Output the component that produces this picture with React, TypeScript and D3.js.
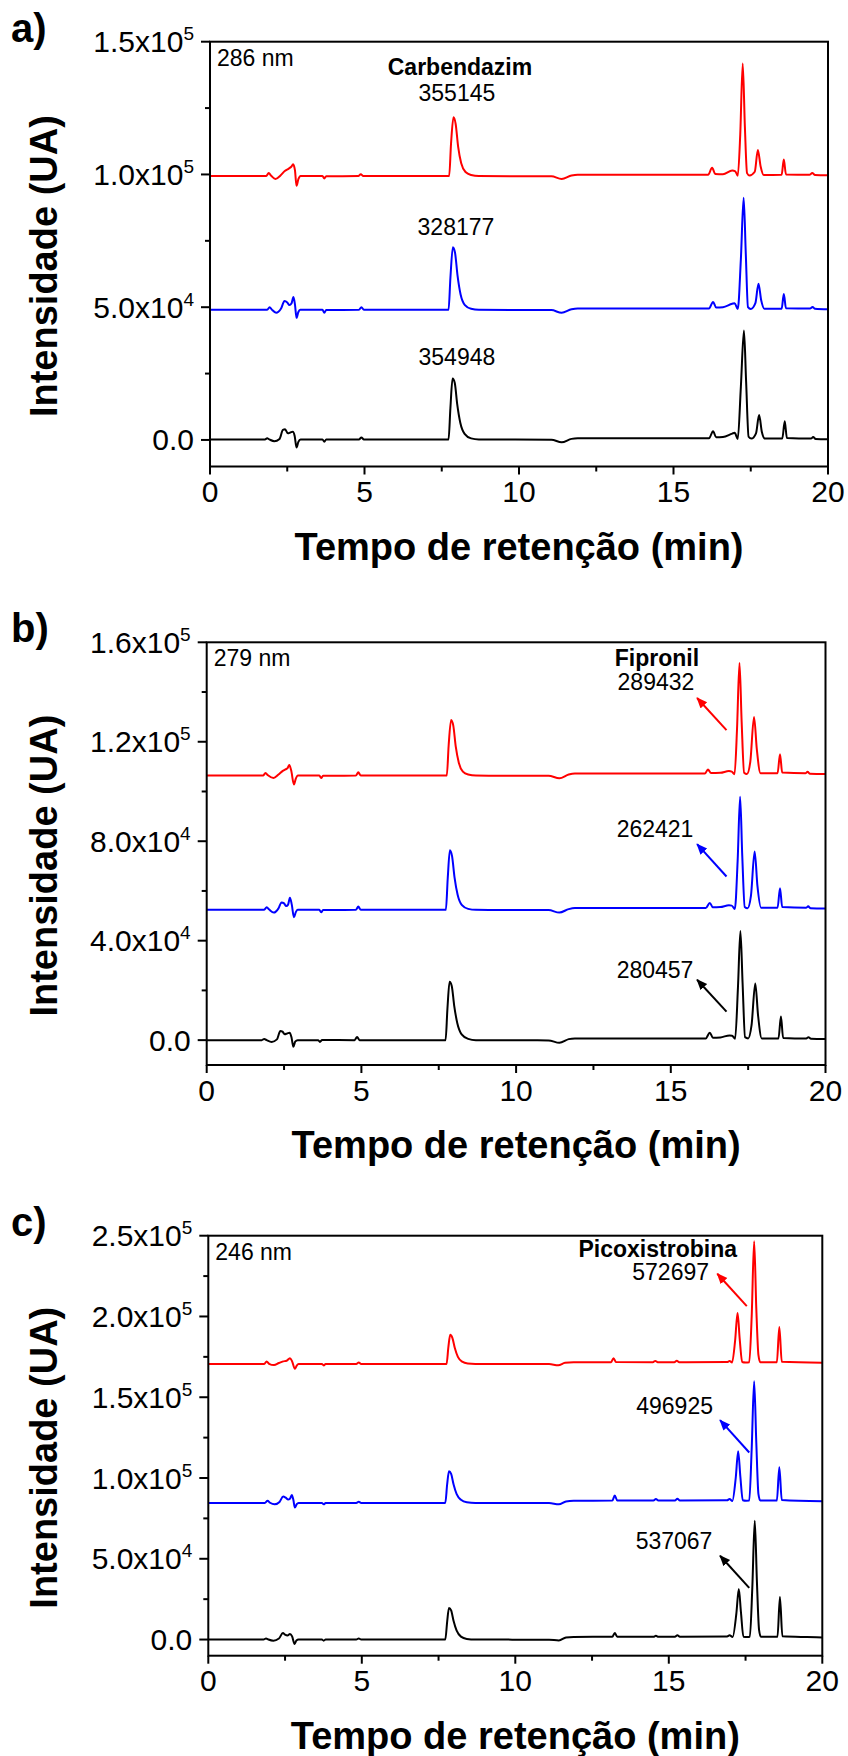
import React from 'react';
import * as d3 from 'd3';

type Pt = [number, number];

// retention time axis
const timeTicks = [0, 5, 10, 15, 20];
const timeMinor = [2.5, 7.5, 12.5, 17.5];

// ---- a) 286 nm ----
const aRed: Pt[] = [
  [0, 99400], [1.82, 99400], [1.9, 100500], [1.98, 99500], [2.12, 98300], [2.28, 99600], [2.42, 101300], [2.55, 102200],
  [2.63, 102900], [2.69, 103800], [2.75, 101500], [2.8, 95700], [2.86, 98200], [2.93, 99400], [3.64, 99400], [3.7, 98500],
  [3.76, 99300], [4.8, 99400], [4.88, 100100], [4.96, 99400], [7.74, 99400], [7.8, 111500], [7.88, 121500], [7.95, 119000],
  [8.03, 110500], [8.13, 104200], [8.27, 100900], [8.45, 99800], [8.7, 99400], [11.05, 99300], [11.38, 98300], [11.7, 99600],
  [11.9, 99900], [16.12, 99900], [16.25, 102500], [16.35, 100200], [16.6, 100100], [16.9, 101500], [17.0, 101200], [17.08, 99500],
  [17.16, 115000], [17.24, 141800], [17.31, 118000], [17.38, 100500], [17.46, 99600], [17.63, 101000], [17.73, 109200],
  [17.82, 103000], [17.92, 99800], [18.5, 99900], [18.57, 105600], [18.64, 100000], [19.4, 99900], [19.49, 100500],
  [19.58, 99800], [20, 99700],
];
const aBlue: Pt[] = [
  [0, 49000], [1.85, 49000], [1.93, 50000], [2.0, 49100], [2.14, 47900], [2.3, 49500], [2.41, 52300], [2.5, 51800],
  [2.57, 50800], [2.64, 51500], [2.7, 53800], [2.75, 51000], [2.8, 46000], [2.86, 48200], [2.92, 49000], [3.64, 49000],
  [3.7, 47900], [3.76, 48900], [4.82, 49000], [4.9, 50000], [4.98, 49000], [7.72, 49000], [7.78, 61000], [7.86, 72600],
  [7.93, 70500], [8.01, 62000], [8.11, 54800], [8.25, 50800], [8.45, 49400], [8.7, 49000], [11.05, 48900], [11.38, 47900],
  [11.7, 49200], [11.9, 49500], [16.15, 49500], [16.28, 52000], [16.38, 49900], [16.6, 50000], [16.9, 51300], [16.98, 51500],
  [17.08, 49300], [17.18, 68000], [17.27, 91200], [17.34, 70000], [17.41, 50000], [17.5, 49300], [17.65, 51500],
  [17.75, 58800], [17.84, 52500], [17.94, 49400], [18.5, 49400], [18.57, 55000], [18.64, 49600], [19.42, 49500],
  [19.5, 50100], [19.58, 49400], [20, 49200],
];
const aBlack: Pt[] = [
  [0, 200], [1.78, 200], [1.85, 600], [1.92, 200], [2.08, -500], [2.25, 400], [2.36, 3800], [2.43, 4000], [2.52, 2500],
  [2.6, 2800], [2.68, 3100], [2.74, 1500], [2.8, -2800], [2.86, -700], [2.93, 200], [3.64, 200], [3.7, -700], [3.76, 200],
  [4.82, 200], [4.9, 900], [4.98, 200], [7.72, 200], [7.78, 12000], [7.85, 23100], [7.92, 21500], [8.0, 13500], [8.1, 6500],
  [8.24, 2300], [8.45, 600], [8.7, 200], [11.05, 100], [11.38, -900], [11.7, 400], [11.9, 600], [16.15, 600], [16.28, 3300],
  [16.38, 1000], [16.6, 1100], [16.9, 2400], [16.98, 2700], [17.08, 400], [17.18, 20000], [17.28, 41200], [17.35, 22000],
  [17.43, 1200], [17.52, 500], [17.67, 2500], [17.77, 9400], [17.86, 3000], [17.96, 500], [18.52, 500], [18.6, 7000],
  [18.67, 700], [19.45, 500], [19.52, 1100], [19.6, 400], [20, 300],
];
const aTicks = [0, 5e4, 1e5, 1.5e5];
const aMinor = [2.5e4, 7.5e4, 1.25e5];
const aAreas = ['355145', '328177', '354948'];
const aAreaPos: Pt[] = [[7.99, 130550], [7.96, 80280], [7.99, 31280]];

// ---- b) 279 nm ----
const bRed: Pt[] = [
  [0, 106400], [1.82, 106400], [1.9, 107400], [1.98, 106500], [2.16, 105400], [2.32, 106800], [2.45, 108200], [2.55, 108900],
  [2.62, 109500], [2.67, 110700], [2.73, 108500], [2.82, 102800], [2.88, 105200], [2.94, 106400], [3.64, 106400],
  [3.7, 105400], [3.76, 106300], [4.82, 106400], [4.9, 107700], [4.98, 106400], [7.76, 106400], [7.82, 118500],
  [7.9, 128800], [7.97, 126500], [8.05, 118000], [8.15, 111500], [8.28, 108000], [8.45, 106800], [8.7, 106400],
  [11.05, 106300], [11.4, 105300], [11.7, 106800], [11.9, 107200], [16.1, 107200], [16.2, 108800], [16.3, 107400],
  [16.6, 107500], [16.88, 108200], [16.97, 108000], [17.06, 106900], [17.14, 125000], [17.22, 151700], [17.29, 128000],
  [17.37, 107500], [17.46, 107000], [17.57, 112000], [17.69, 130000], [17.78, 117000], [17.9, 107300], [18.45, 107300],
  [18.53, 115000], [18.6, 107600], [19.35, 107300], [19.42, 107900], [19.5, 107100], [20, 107000],
];
const bBlue: Pt[] = [
  [0, 52400], [1.85, 52400], [1.94, 53400], [2.02, 52500], [2.17, 51300], [2.32, 53000], [2.42, 55400], [2.5, 55000],
  [2.57, 53900], [2.63, 54500], [2.69, 57300], [2.75, 54500], [2.82, 49400], [2.88, 51500], [2.94, 52400], [3.64, 52400],
  [3.7, 51400], [3.76, 52300], [4.82, 52400], [4.9, 53700], [4.98, 52400], [7.73, 52400], [7.79, 65000], [7.86, 76400],
  [7.93, 74000], [8.01, 65500], [8.11, 58500], [8.25, 54300], [8.45, 52800], [8.7, 52400], [11.05, 52300], [11.4, 51300],
  [11.7, 52700], [11.9, 53100], [16.13, 53100], [16.26, 55200], [16.36, 53400], [16.6, 53500], [16.88, 54200],
  [16.97, 54100], [17.07, 52700], [17.16, 72000], [17.24, 97900], [17.31, 74000], [17.39, 53500], [17.48, 53000],
  [17.59, 58000], [17.71, 75900], [17.8, 62000], [17.92, 53200], [18.45, 53200], [18.53, 61100], [18.6, 53500],
  [19.37, 53200], [19.44, 53800], [19.52, 53000], [20, 52900],
];
const bBlack: Pt[] = [
  [0, 0], [1.78, 0], [1.86, 500], [1.94, 0], [2.1, -700], [2.27, 300], [2.38, 3700], [2.45, 3400], [2.52, 2400], [2.6, 2700],
  [2.68, 3000], [2.74, 1200], [2.8, -2700], [2.86, -600], [2.94, 0], [3.6, 0], [3.66, -700], [3.73, 100], [4.78, 0],
  [4.86, 1300], [4.94, 0], [7.72, 0], [7.78, 12500], [7.85, 23500], [7.92, 21800], [8.0, 13800], [8.1, 6800], [8.24, 2300],
  [8.45, 500], [8.7, 0], [11.05, -100], [11.4, -1100], [11.7, 400], [11.9, 700], [16.13, 700], [16.26, 3000], [16.36, 1000],
  [16.6, 1100], [16.9, 1900], [16.98, 1800], [17.08, 600], [17.17, 21000], [17.25, 43900], [17.32, 23000], [17.4, 1200],
  [17.5, 700], [17.61, 6000], [17.73, 22800], [17.82, 10000], [17.94, 700], [18.48, 700], [18.56, 9500], [18.63, 900],
  [19.38, 700], [19.45, 1200], [19.53, 600], [20, 500],
];
const bTicks = [0, 4e4, 8e4, 1.2e5, 1.6e5];
const bMinor = [2e4, 6e4, 1e5, 1.4e5];
const bAreas = ['289432', '262421', '280457'];
const bAreaPos: Pt[] = [[14.52, 144000], [14.49, 85100], [14.49, 28300]];
const bArrows: [Pt, Pt][] = [
  [[16.8, 124700], [15.85, 137600]],
  [[16.8, 65800], [15.85, 78800]],
  [[16.8, 11450], [15.85, 24300]],
];

// ---- c) 246 nm ----
const cRed: Pt[] = [
  [0, 170600], [1.82, 170600], [1.9, 172200], [1.98, 170700], [2.14, 169900], [2.3, 171200], [2.44, 172200], [2.55, 172600],
  [2.66, 174200], [2.73, 172200], [2.82, 167600], [2.88, 169600], [2.94, 170600], [3.7, 170600], [3.76, 169700],
  [3.82, 170500], [4.82, 170600], [4.9, 171500], [4.98, 170600], [7.76, 170600], [7.82, 181000], [7.88, 188700],
  [7.95, 186800], [8.03, 180500], [8.13, 175000], [8.27, 172000], [8.45, 170900], [8.7, 170600], [11.1, 170500],
  [11.4, 169800], [11.62, 171300], [11.9, 171600], [13.12, 171700], [13.2, 174200], [13.28, 171800], [14.48, 171700],
  [14.56, 172500], [14.64, 171700], [15.18, 171700], [15.26, 172600], [15.34, 171700], [16.9, 171800], [16.98, 172400],
  [17.06, 171500], [17.16, 185000], [17.24, 202200], [17.31, 186000], [17.39, 171800], [17.5, 171500], [17.62, 171700],
  [17.7, 200000], [17.78, 246500], [17.85, 205000], [17.92, 176000], [17.98, 171600], [18.52, 171600], [18.6, 193500],
  [18.68, 172000], [20, 171400],
];
const cBlue: Pt[] = [
  [0, 84600], [1.84, 84600], [1.93, 85900], [2.01, 84700], [2.16, 83700], [2.32, 85200], [2.44, 88500], [2.52, 87800],
  [2.6, 86700], [2.66, 87200], [2.72, 89500], [2.77, 86500], [2.82, 81700], [2.88, 83800], [2.94, 84600], [3.7, 84600],
  [3.76, 83700], [3.82, 84500], [4.82, 84600], [4.9, 85300], [4.98, 84600], [7.72, 84600], [7.78, 96000], [7.84, 104200],
  [7.91, 102500], [7.99, 96000], [8.09, 90000], [8.23, 86500], [8.42, 85000], [8.7, 84600], [11.1, 84500], [11.42, 83700],
  [11.65, 85500], [11.9, 85900], [13.16, 86000], [13.24, 89100], [13.32, 86100], [14.5, 86000], [14.58, 87000],
  [14.66, 86000], [15.2, 86000], [15.28, 87200], [15.36, 86000], [16.9, 86200], [16.98, 87000], [17.07, 85800],
  [17.18, 100000], [17.26, 116600], [17.33, 101000], [17.41, 86200], [17.52, 85900], [17.62, 86000], [17.7, 118000],
  [17.78, 159900], [17.85, 122000], [17.92, 90000], [17.98, 86000], [18.52, 86000], [18.6, 106700], [18.68, 86400],
  [20, 85600],
];
const cBlack: Pt[] = [
  [0, 0], [1.8, 0], [1.88, 700], [1.96, 0], [2.12, -700], [2.3, 600], [2.43, 4100], [2.5, 3000], [2.58, 2500], [2.66, 3500],
  [2.73, 2000], [2.81, -2700], [2.87, -600], [2.94, 0], [3.7, 0], [3.76, -700], [3.82, 0], [4.82, 0], [4.9, 700], [4.98, 0],
  [7.72, 0], [7.78, 11000], [7.84, 19600], [7.91, 18000], [7.99, 11500], [8.09, 5500], [8.23, 1800], [8.42, 400], [8.7, 0],
  [11.1, -100], [11.42, -600], [11.65, 1300], [11.9, 1650], [13.16, 1700], [13.24, 4100], [13.32, 1800], [14.5, 1700],
  [14.58, 2300], [14.66, 1700], [15.2, 1700], [15.28, 2600], [15.36, 1700], [16.9, 1900], [16.98, 2600], [17.08, 1600],
  [17.2, 16000], [17.28, 31300], [17.35, 17000], [17.43, 1800], [17.54, 1650], [17.64, 1800], [17.72, 32000], [17.8, 73600],
  [17.87, 36000], [17.94, 6000], [18.0, 1700], [18.54, 1700], [18.62, 26400], [18.7, 2000], [19.5, 1500], [20, 1300],
];
const cTicks = [0, 5e4, 1e5, 1.5e5, 2e5, 2.5e5];
const cMinor = [2.5e4, 7.5e4, 1.25e5, 1.75e5, 2.25e5];
const cAreas = ['572697', '496925', '537067'];
const cAreaPos: Pt[] = [[15.06, 227700], [15.19, 144600], [15.17, 61200]];
const cArrows: [Pt, Pt][] = [
  [[17.54, 206400], [16.58, 226450]],
  [[17.62, 115800], [16.67, 135800]],
  [[17.62, 31950], [16.67, 51900]],
];

const compoundNames = ['Carbendazim', 'Fipronil', 'Picoxistrobina'];
const compoundPos: Pt[] = [[8.09, 140650], [14.55, 153500], [14.64, 241900]];
const wavelengths = ['286 nm', '279 nm', '246 nm'];
const panelLetters = ['a)', 'b)', 'c)'];

const COLORS = ['#ff0000', '#0000ff', '#000000']; // red, blue, black
const FONT = 'Liberation Sans, Arial, Helvetica, sans-serif';

const panels = [
  { left: 210, right: 828, top: 41.7, bottom: 466.5, yMax: 1.5e5, ticks: aTicks, minor: aMinor,
    traces: [aRed, aBlue, aBlack], areas: aAreas, areaPos: aAreaPos, arrows: [] as [Pt, Pt][] },
  { left: 206.7, right: 825.5, top: 642.3, bottom: 1065, yMax: 1.6e5, ticks: bTicks, minor: bMinor,
    traces: [bRed, bBlue, bBlack], areas: bAreas, areaPos: bAreaPos, arrows: bArrows },
  { left: 208.3, right: 822.3, top: 1235.7, bottom: 1655.7, yMax: 2.5e5, ticks: cTicks, minor: cMinor,
    traces: [cRed, cBlue, cBlack], areas: cAreas, areaPos: cAreaPos, arrows: cArrows },
];

function tickText(v: number) {
  if (v === 0) return { mant: '0.0', exp: '' };
  const e = Math.floor(Math.log10(v) + 1e-9);
  return { mant: (v / Math.pow(10, e)).toFixed(1) + 'x10', exp: String(e) };
}

function Panel({ p, i }: { p: (typeof panels)[number]; i: number }) {
  const x = d3.scaleLinear().domain([0, 20]).range([p.left, p.right]);
  const y = d3.scaleLinear().domain([-1e4, p.yMax]).range([p.bottom, p.top]);
  const line = d3.line<Pt>().x(d => x(d[0])).y(d => y(d[1])).curve(d3.curveMonotoneX);
  const cy = (p.top + p.bottom) / 2 + 12;

  return (
    <g>
      {/* traces: black first so colours sit on top */}
      {[2, 1, 0].map(k => (
        <path key={k} d={line(p.traces[k]) || ''} fill="none" stroke={COLORS[k]} strokeWidth={2} strokeLinejoin="round" />
      ))}

      {/* frame */}
      <rect x={p.left} y={p.top} width={p.right - p.left} height={p.bottom - p.top} fill="none" stroke="#000" strokeWidth={2} />

      {/* y ticks */}
      {p.ticks.map(v => {
        const t = tickText(v);
        return (
          <g key={'y' + v}>
            <line x1={p.left - 9} x2={p.left} y1={y(v)} y2={y(v)} stroke="#000" strokeWidth={2} />
            <text x={p.left - 16} y={y(v) + 10.5} textAnchor="end" fontSize={30} fontFamily={FONT}>
              {t.mant}
              {t.exp && <tspan dy={-12} fontSize={19}>{t.exp}</tspan>}
            </text>
          </g>
        );
      })}
      {p.minor.map(v => (
        <line key={'ym' + v} x1={p.left - 5} x2={p.left} y1={y(v)} y2={y(v)} stroke="#000" strokeWidth={2} />
      ))}

      {/* x ticks */}
      {timeTicks.map(t => (
        <g key={'x' + t}>
          <line x1={x(t)} x2={x(t)} y1={p.bottom} y2={p.bottom + 8} stroke="#000" strokeWidth={2} />
          <text x={x(t)} y={p.bottom + 35.5} textAnchor="middle" fontSize={30} fontFamily={FONT}>{t}</text>
        </g>
      ))}
      {timeMinor.map(t => (
        <line key={'xm' + t} x1={x(t)} x2={x(t)} y1={p.bottom} y2={p.bottom + 5} stroke="#000" strokeWidth={2} />
      ))}

      {/* titles */}
      <text x={(p.left + p.right) / 2} y={p.bottom + 93} textAnchor="middle" fontSize={38} fontWeight="bold" fontFamily={FONT}>
        Tempo de retenção (min)
      </text>
      <text transform={`translate(57,${cy}) rotate(-90)`} textAnchor="middle" fontSize={38} fontWeight="bold" fontFamily={FONT}>
        Intensidade (UA)
      </text>
      <text x={11} y={p.top} fontSize={40} fontWeight="bold" fontFamily={FONT}>{panelLetters[i]}</text>
      <text x={p.left + 7} y={p.top + 24} fontSize={23} fontFamily={FONT}>{wavelengths[i]}</text>

      {/* annotations */}
      <text x={x(compoundPos[i][0])} y={y(compoundPos[i][1]) + 8} textAnchor="middle" fontSize={23} fontWeight="bold" fontFamily={FONT}>
        {compoundNames[i]}
      </text>
      {p.areas.map((a, k) => (
        <text key={a} x={x(p.areaPos[k][0])} y={y(p.areaPos[k][1]) + 8} textAnchor="middle" fontSize={23} fontFamily={FONT}>{a}</text>
      ))}
      {p.arrows.map((ar, k) => (
        <line key={'ar' + k} x1={x(ar[0][0])} y1={y(ar[0][1])} x2={x(ar[1][0])} y2={y(ar[1][1])}
          stroke={COLORS[k]} strokeWidth={2} markerEnd={`url(#head${k})`} />
      ))}
    </g>
  );
}

export default function App() {
  return (
    <svg width={848} height={1756} style={{ position: 'absolute', left: 0, top: 0, background: '#fff' }}>
      <defs>
        {COLORS.map((c, k) => (
          <marker key={k} id={`head${k}`} markerWidth={12} markerHeight={10} refX={10} refY={4.5}
            orient="auto" markerUnits="userSpaceOnUse">
            <path d="M0,0 L11,4.5 L0,9 Z" fill={c} />
          </marker>
        ))}
      </defs>
      <rect width={848} height={1756} fill="#fff" />
      {panels.map((p, i) => <Panel key={i} p={p} i={i} />)}
    </svg>
  );
}
